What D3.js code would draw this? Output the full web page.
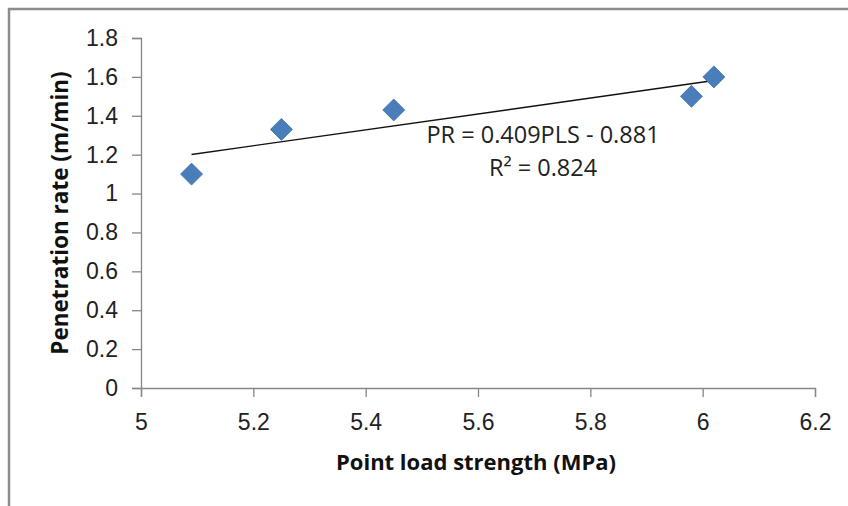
<!DOCTYPE html>
<html>
<head>
<meta charset="utf-8">
<script src="https://cdn.jsdelivr.net/npm/d3@7"></script>
<style>
  body { margin: 0; background: #fff; }
  svg { display: block; font-family: "Open Sans", "Noto Sans", sans-serif; }
</style>
</head>
<body>
<div id="chart"></div>
<script>
// Data
const pls = [5.09, 5.25, 5.45, 5.98, 6.02];
const pr = [1.10, 1.33, 1.43, 1.50, 1.60];
const xTicks = [5, 5.2, 5.4, 5.6, 5.8, 6, 6.2];
const yTicks = [0, 0.2, 0.4, 0.6, 0.8, 1, 1.2, 1.4, 1.6, 1.8];
const slope = 0.409, intercept = -0.881;
const eqLines = ["PR = 0.409PLS - 0.881", "R² = 0.824"];

const W = 848, H = 506;
const margin = {top: 38, right: 33, bottom: 118, left: 141};

const svg = d3.select("#chart").append("svg")
    .attr("width", W)
    .attr("height", H);

// outer chart frame (only top/left visible in the shot)
svg.append("rect")
    .attr("x", 9).attr("y", 9)
    .attr("width", W + 20).attr("height", H + 20)
    .attr("fill", "none")
    .attr("stroke", "#8c8c8c")
    .attr("stroke-width", 2.5);

const x = d3.scaleLinear().domain([5, 6.2]).range([margin.left, W - margin.right]);
const y = d3.scaleLinear().domain([0, 1.8]).range([H - margin.bottom, margin.top]);

const axisColor = "#868686";

// y axis
const yAxis = svg.append("g")
    .attr("transform", `translate(${margin.left},0)`)
    .call(d3.axisLeft(y).tickValues(yTicks).tickSize(9).tickPadding(14).tickFormat(d3.format("~g")));
// x axis
const xAxis = svg.append("g")
    .attr("transform", `translate(0,${y(0)})`)
    .call(d3.axisBottom(x).tickValues(xTicks).tickSize(9).tickPadding(17).tickFormat(d3.format("~g")));

[xAxis, yAxis].forEach(a => {
  a.select(".domain").attr("stroke", axisColor).attr("stroke-width", 1.3);
  a.selectAll(".tick line").attr("stroke", axisColor).attr("stroke-width", 1.3);
  a.selectAll(".tick text").attr("fill", "#222").style("font-size", "23px");
});

// trend line over the data range
const xExt = d3.extent(pls);
svg.append("line")
    .attr("x1", x(xExt[0])).attr("y1", y(slope * xExt[0] + intercept))
    .attr("x2", x(xExt[1])).attr("y2", y(slope * xExt[1] + intercept))
    .attr("stroke", "#111")
    .attr("stroke-width", 1.4);

// markers
svg.append("g")
  .selectAll("path")
  .data(pls.map((d, i) => [d, pr[i]]))
  .join("path")
    .attr("transform", d => `translate(${x(d[0])},${y(d[1])})`)
    .attr("d", "M0,-11L11,0L0,11L-11,0Z")
    .attr("fill", "#4a7ebb")
    .attr("stroke", "#3f72ad")
    .attr("stroke-width", 0.8);

// equation label
svg.append("text")
    .attr("x", 543).attr("y", 143)
    .attr("text-anchor", "middle")
    .attr("fill", "#222")
    .style("font-size", "23.5px")
    .text(eqLines[0]);
svg.append("text")
    .attr("x", 543).attr("y", 176)
    .attr("text-anchor", "middle")
    .attr("fill", "#222")
    .style("font-size", "23.5px")
    .text(eqLines[1]);

// axis titles
svg.append("text")
    .attr("x", 476).attr("y", 470)
    .attr("text-anchor", "middle")
    .attr("fill", "#111")
    .style("font-size", "22px")
    .style("font-weight", "bold")
    .text("Point load strength (MPa)");
svg.append("text")
    .attr("transform", "translate(68,213) rotate(-90)")
    .attr("text-anchor", "middle")
    .attr("fill", "#111")
    .style("font-size", "22.5px")
    .style("font-weight", "bold")
    .text("Penetration rate (m/min)");
</script>
</body>
</html>
